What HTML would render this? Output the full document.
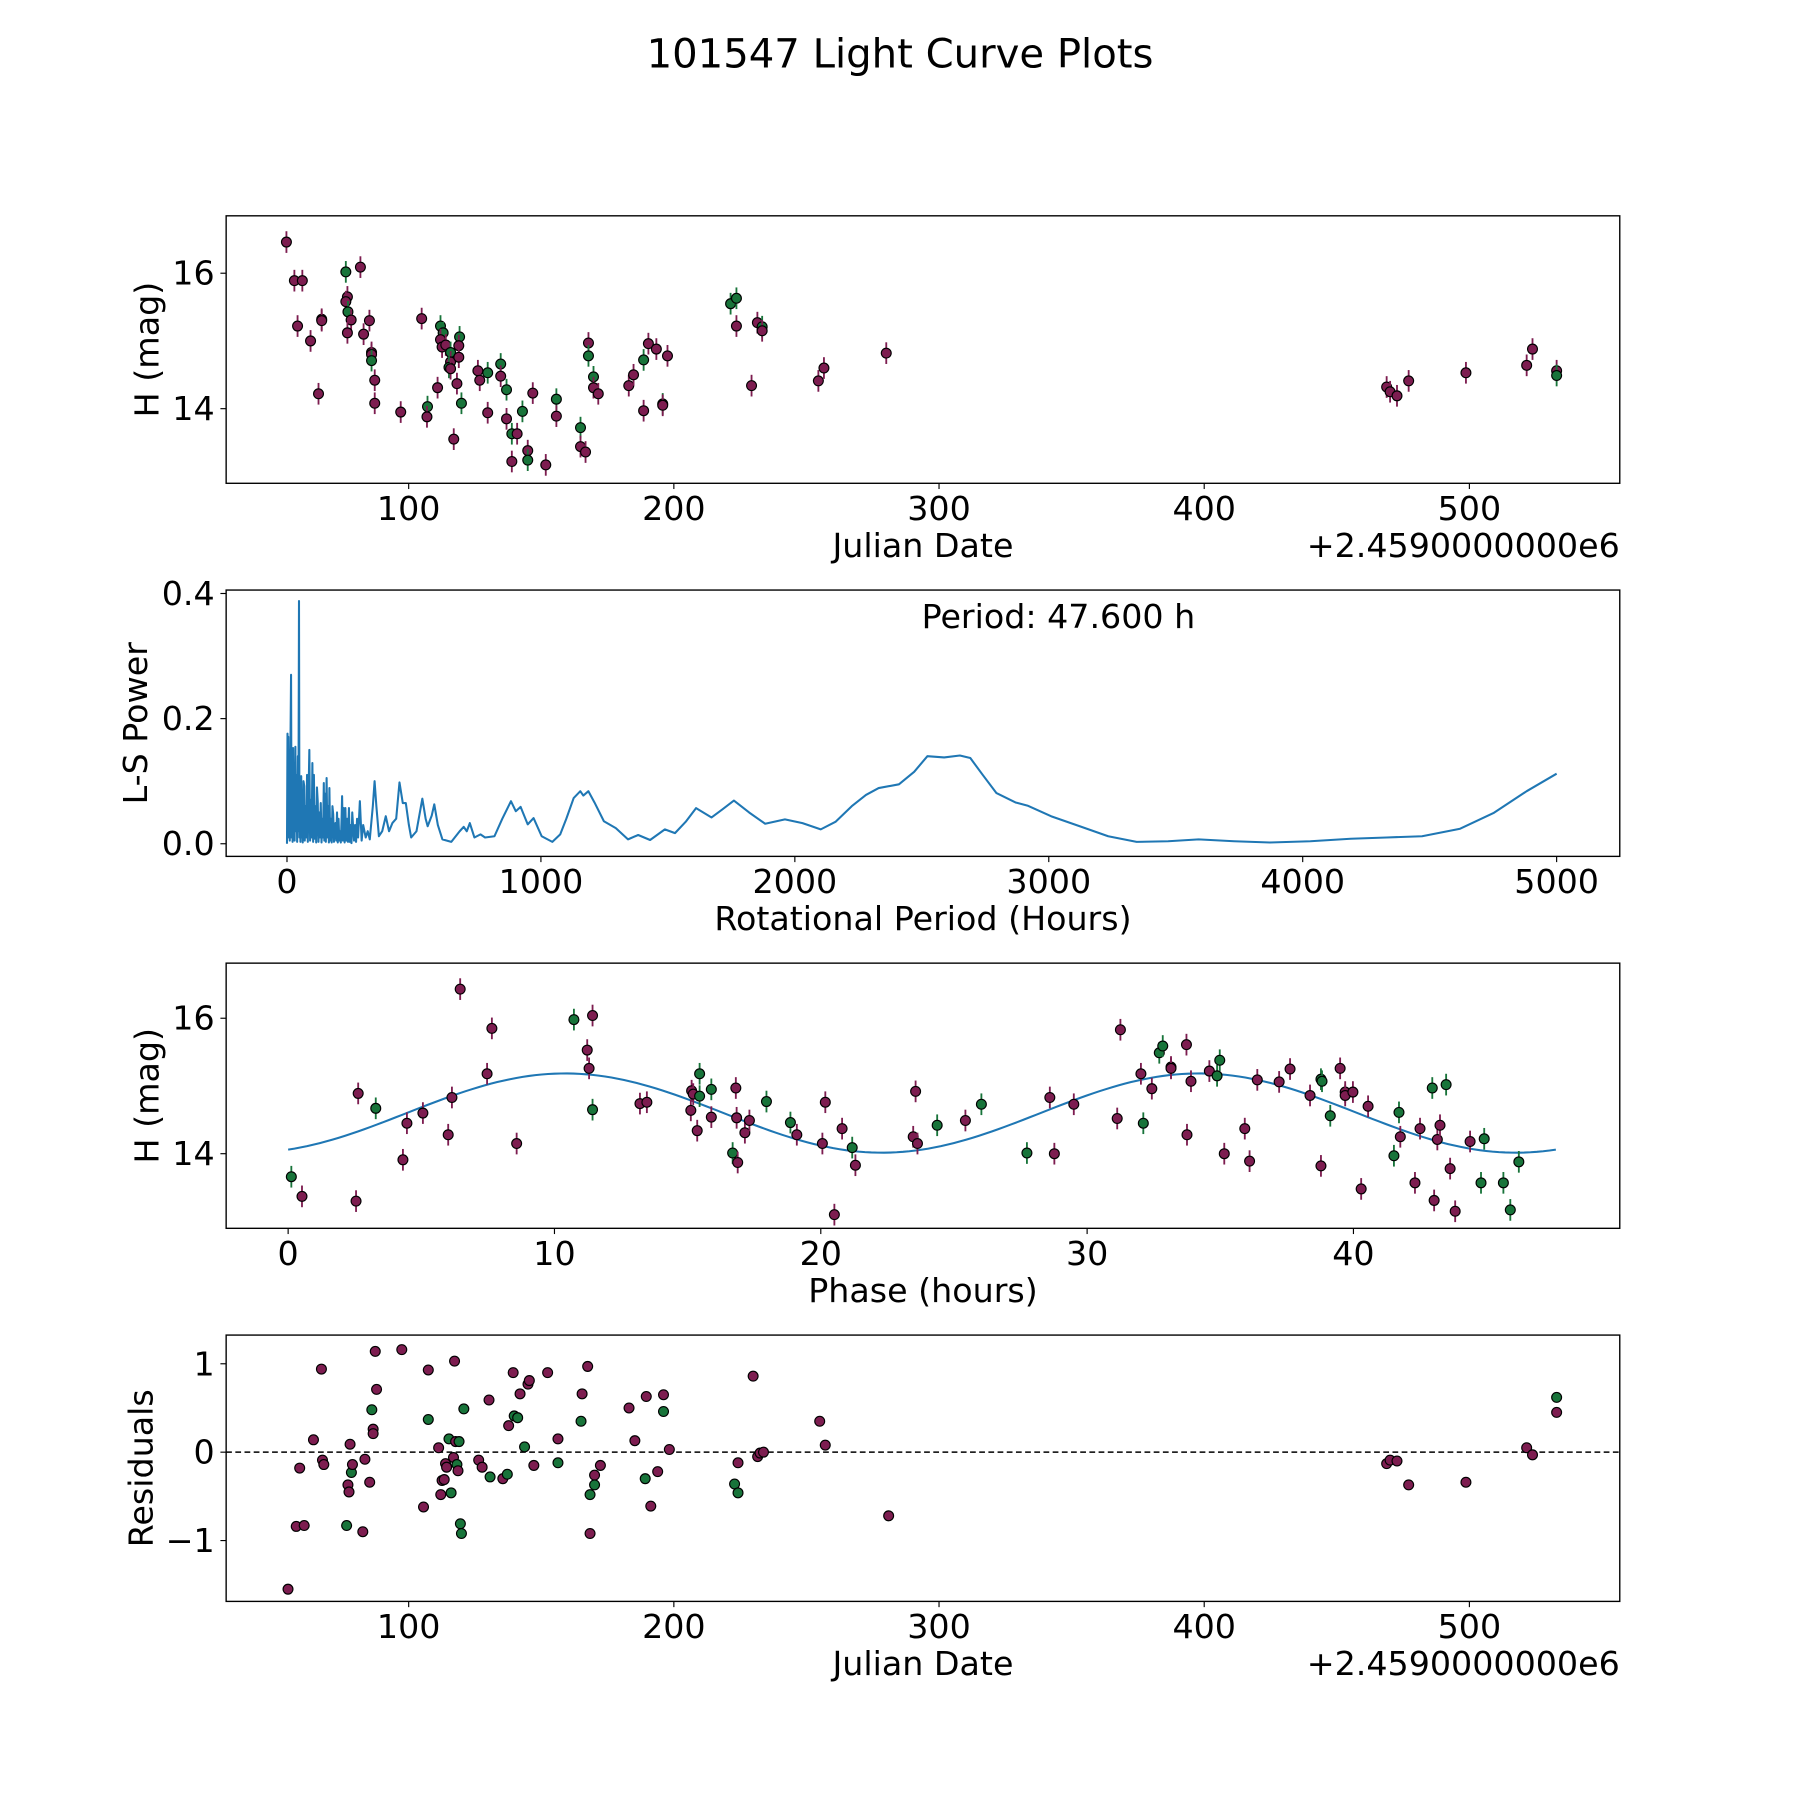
<!DOCTYPE html>
<html><head><meta charset="utf-8"><style>
html,body{margin:0;padding:0;background:#fff}
svg{display:block}
text{font-family:"DejaVu Sans","Liberation Sans",sans-serif;fill:#000}
</style></head><body>
<svg id="chart" width="1800" height="1800" viewBox="0 0 1568 1568" xmlns="http://www.w3.org/2000/svg">
<text x="784" y="59" font-size="35" text-anchor="middle">101547 Light Curve Plots</text>
<g id="g1"></g>
<g id="g2"></g>
<g id="g3"></g>
<g id="g4"></g>
</svg>
<script>
// ---------- data ----------
const jd1 = [53.9,56.9,59.9,58.1,63.0,66.0,67.2,67.2,76.3,81.8,76.9,76.3,77.1,78.3,76.9,83.0,85.2,86.0,86.0,86.0,87.2,87.2,97.0,104.9,107.1,106.9,110.9,112.0,113.0,112.0,112.6,114.0,115.8,115.8,115.2,115.8,118.2,119.2,118.9,118.9,117.0,119.9,126.1,126.8,129.8,129.8,134.7,134.7,136.9,136.9,138.9,140.9,144.9,144.9,138.9,142.9,146.8,151.7,155.7,155.7,164.8,164.8,166.7,167.8,167.8,169.7,169.7,171.5,183.0,184.8,188.6,188.6,190.4,193.4,197.6,195.8,195.8,221.4,223.6,223.6,231.5,233.3,233.3,229.3,254.5,256.6,280.1,468.8,470.1,472.7,477.1,498.7,521.6,523.8,532.9,532.9];
const mag1 = [16.46,15.89,15.89,15.22,15.00,14.22,15.32,15.30,16.02,16.09,15.65,15.58,15.43,15.31,15.12,15.10,15.30,14.83,14.80,14.71,14.42,14.08,13.95,15.33,14.03,13.88,14.31,15.22,15.12,15.02,14.91,14.94,14.83,14.69,14.61,14.59,14.37,15.06,14.93,14.76,13.55,14.08,14.56,14.42,14.53,13.94,14.66,14.48,14.28,13.85,13.63,13.63,13.38,13.24,13.22,13.96,14.23,13.17,14.14,13.89,13.72,13.44,13.36,14.97,14.78,14.47,14.31,14.22,14.34,14.50,14.72,13.97,14.96,14.88,14.78,14.07,14.05,15.55,15.63,15.22,15.27,15.21,15.15,14.34,14.41,14.60,14.82,14.32,14.25,14.19,14.41,14.53,14.64,14.88,14.56,14.49];
const band1 = "ppppppppgp" + "ppgppppppg" + "ppppgppggp" + "ppgpgppgpp" + "pgppgpgpgp" + "gppgpgppgp" + "gpppggpppp" + "gppppgpggp" + "pgppppp" + "ppppppppg";
const ph3 = [0.12,0.52,2.55,2.63,3.29,4.31,4.46,5.06,6.01,6.15,6.46,7.47,7.65,8.58,10.73,11.43,11.23,11.30,11.43,13.21,13.47,15.15,15.21,15.45,15.45,15.12,15.36,15.89,15.89,16.81,16.84,16.69,16.88,17.15,17.32,17.96,18.86,19.10,20.17,20.06,20.51,20.80,21.18,21.30,23.56,23.47,23.63,24.37,25.43,26.03,27.74,28.60,28.77,29.50,31.13,31.25,32.02,32.11,32.43,32.71,32.84,33.15,33.15,33.75,33.73,33.90,34.59,34.88,34.98,35.15,35.92,36.10,36.39,37.21,37.62,38.37,38.78,38.78,38.82,39.13,39.50,39.69,39.69,39.98,40.29,40.55,41.52,41.71,41.76,42.31,42.50,42.96,43.03,43.15,43.25,43.48,43.63,43.82,44.38,44.79,44.91,45.63,45.89,46.21];
const mag3 = [13.66,13.37,13.30,14.89,14.67,13.91,14.45,14.60,14.28,14.83,16.43,15.18,15.85,14.15,15.98,16.04,15.53,15.26,14.65,14.74,14.76,14.93,14.88,14.85,15.18,14.64,14.34,14.95,14.54,14.97,14.53,14.01,13.87,14.31,14.49,14.77,14.46,14.28,14.76,14.15,13.10,14.37,14.09,13.83,14.92,14.25,14.15,14.42,14.49,14.73,14.01,14.83,14.00,14.73,14.52,15.83,15.18,14.45,14.96,15.49,15.59,15.28,15.26,14.28,15.61,15.07,15.22,15.15,15.38,14.00,14.37,13.89,15.09,15.06,15.25,14.86,13.82,15.10,15.07,14.56,15.26,14.91,14.86,14.91,13.48,14.70,13.97,14.61,14.25,13.57,14.37,14.97,13.31,14.21,14.42,15.02,13.78,13.15,14.18,13.57,14.22,13.57,13.17,13.88];
const band3 = "gpppg" + "ppppp" + "ppppg" + "pppgp" + "pppgg" + "ppgpp" + "pgppp" + "ggppp" + "ppgpp" + "ppg" +
              "pggpp" + "ppppg" + "pggpp" + "ppppg" + "gpppp" + "ppppg" + "ggppp" + "pppgg" + "pppgp" + "ppgpp" + "pggggg";
const jd4 = [54.5,57.6,58.9,60.6,64.1,67.1,67.5,68.0,76.6,77.1,77.5,77.9,78.4,78.8,82.7,83.5,85.3,86.1,86.6,86.6,87.4,87.9,97.4,105.6,107.4,107.4,111.3,112.1,112.6,113.4,113.9,114.3,115.2,116.0,116.9,117.3,117.7,118.2,118.6,119.0,119.5,119.9,120.8,126.4,127.7,130.3,130.7,135.5,137.2,137.7,139.4,139.8,141.1,142.0,143.7,145.0,145.5,147.2,152.4,156.3,156.3,165.0,165.4,167.5,168.4,168.4,170.1,170.1,172.3,183.1,185.3,189.2,189.6,191.3,193.9,196.1,196.1,198.3,222.9,224.2,224.2,229.9,231.6,232.5,233.8,255.0,257.1,281.0,468.8,470.1,472.7,477.1,498.7,521.6,523.8,532.9,532.9];
const res4 = [-1.55,-0.84,-0.18,-0.83,0.14,0.94,-0.09,-0.14,-0.83,-0.37,-0.45,0.09,-0.23,-0.14,-0.90,-0.08,-0.34,0.48,0.26,0.21,1.14,0.71,1.16,-0.62,0.37,0.93,0.05,-0.48,-0.32,-0.31,-0.13,-0.17,0.15,-0.46,-0.06,1.03,0.12,-0.14,-0.21,0.12,-0.81,-0.92,0.49,-0.09,-0.17,0.59,-0.28,-0.30,-0.25,0.30,0.90,0.41,0.39,0.66,0.06,0.77,0.81,-0.15,0.90,0.15,-0.12,0.35,0.66,0.97,-0.48,-0.92,-0.26,-0.37,-0.15,0.50,0.13,-0.30,0.63,-0.61,-0.22,0.46,0.65,0.03,-0.36,-0.12,-0.46,0.86,-0.05,-0.01,0.00,0.35,0.08,-0.72,-0.13,-0.09,-0.10,-0.37,-0.34,0.05,-0.03,0.45,0.62];
const band4 = "ppppppppgp" + "ppgppppgpp" + "ppppgppppp" + "ppggpppgpg" + "gggpppgpgp" + "pggpgppppp" + "ggppgppgpp" + "pgpppgppgp" + "gppppppppp" + "ppppppg";
// periodogram, in rows of 10 (period hours / L-S power)
const periods = [
  0,2,3.5,5,7,9,11,13,16,18,
  20,22,24,26,28,30,33,35,37,40,
  43,45,47.3,49,51,53,56,58,60,62,
  65,68,70,73,76,79,82,85,88,91,
  94,97,100,103,106,109,112,115,118,121,
  124,127,130,133,136,139,142,145,147,150,
  153,156,159,162,165,167,170,173,176,179,
  182,185,188,191,194,197,200,203,206,209,
  212,215,217,220,223,227,230,233,237,240,
  244,247,250,254,257,261,264,268,272,276,
  280,287,294,300,310,318,326,338,345,352,
  362,375,389,402,415,430,443,456,468,480,
  489,510,533,546,554,570,580,594,612,647,
  680,696,708,720,738,762,780,817,848,882,
  901,920,948,971,1003,1045,1076,1100,1129,1155,
  1167,1187,1211,1248,1295,1343,1383,1430,1488,1528,
  1570,1611,1672,1715,1760,1820,1883,1961,2030,2102,
  2160,2224,2280,2330,2410,2470,2522,2588,2650,2691,
  2740,2794,2869,2916,3009,3122,3234,3346,3470,3590,
  3730,3871,4030,4189,4330,4470,4620,4751,4882,5000];
const power = [
  0,0.176,0.02,0.171,0.01,0.15,0.005,0.13,0.27,0.01,
  0.12,0.003,0.153,0.01,0.12,0.005,0.155,0.02,0.11,0.003,
  0.14,0.02,0.388,0.01,0.09,0.003,0.108,0.01,0.07,0.002,
  0.1,0.092,0.005,0.06,0.01,0.11,0.003,0.08,0.15,0.005,
  0.07,0.01,0.129,0.003,0.11,0.008,0.06,0.002,0.09,0.068,
  0.003,0.05,0.01,0.065,0.002,0.04,0.01,0.097,0.005,0.08,
  0.003,0.105,0.01,0.06,0.002,0.089,0.005,0.04,0.002,0.06,
  0.047,0.003,0.03,0.033,0.005,0.05,0.002,0.04,0.005,0.02,
  0.002,0.04,0.076,0.005,0.057,0.002,0.057,0.005,0.04,0.003,
  0.057,0.003,0.03,0.001,0.05,0.023,0.005,0.03,0.003,0.04,
  0.01,0.068,0.005,0.03,0.01,0.02,0.007,0.06,0.1,0.06,
  0.012,0.02,0.044,0.02,0.033,0.04,0.098,0.065,0.065,0.03,
  0.01,0.02,0.072,0.04,0.028,0.045,0.063,0.03,0.007,0.003,
  0.02,0.027,0.02,0.033,0.01,0.015,0.01,0.012,0.04,0.068,
  0.052,0.059,0.031,0.041,0.012,0.003,0.015,0.04,0.073,0.084,
  0.077,0.084,0.066,0.036,0.025,0.007,0.014,0.006,0.023,0.017,
  0.035,0.057,0.042,0.055,0.069,0.05,0.032,0.039,0.033,0.023,
  0.035,0.06,0.078,0.089,0.095,0.115,0.14,0.138,0.141,0.137,
  0.11,0.081,0.066,0.061,0.044,0.028,0.012,0.003,0.004,0.007,
  0.004,0.002,0.004,0.008,0.01,0.012,0.024,0.049,0.084,0.112];
const xticks1 = [100,200,300,400,500];
const yticks1 = [14,16];
const xticks2 = [0,1000,2000,3000,4000,5000];
const yticks2 = [0.0,0.2,0.4];
const yticks2Labels = ["0.0","0.2","0.4"];
const xticks3 = [0,10,20,30,40];
const yticks4 = [-1,0,1];
const yticks4Labels = ["\u22121","0","1"];
const bestPeriod = 47.6;
const fitMean = 14.6, fitAmp = 0.585, fitPhase = 4.45;
const ERR = 0.16;

// ---------- helpers ----------
const NS = "http://www.w3.org/2000/svg";
const PURPLE = "#7d1d50", GREEN = "#18743a", BLUE = "#1f77b4";
const FS = 29;
function mk(parent, tag, attrs, txt){
  const e = document.createElementNS(NS, tag);
  for (const k in attrs) e.setAttribute(k, attrs[k]);
  if (txt !== undefined) e.textContent = txt;
  parent.appendChild(e);
  return e;
}
function lin(d0,d1,p0,p1){ return v => p0 + (v-d0)*(p1-p0)/(d1-d0); }
const L = 197, R = 1411;

function frame(g, top, bot, name){
  const r = mk(g,'rect',{x:L,y:top,width:R-L,height:bot-top,fill:'none',stroke:'#000','stroke-width':1.2});
  
  
}
function xTicks(g, ticks, labels, sx, bot){
  ticks.forEach((t,i)=>{
    const x = sx(t);
    const tk = mk(g,'line',{x1:x,x2:x,y1:bot,y2:bot+5,stroke:'#000','stroke-width':1});
    
    
    const tl = mk(g,'text',{x:x,y:bot+32,'font-size':FS,'text-anchor':'middle'}, labels[i]);
    
    
  });
}
function yTicks(g, ticks, labels, sy){
  ticks.forEach((t,i)=>{
    const y = sy(t);
    const tk = mk(g,'line',{x1:L-5,x2:L,y1:y,y2:y,stroke:'#000','stroke-width':1});
    
    
    const tl = mk(g,'text',{x:L-10,y:y+10,'font-size':FS,'text-anchor':'end'}, labels[i]);
    
    
  });
}
function xLabel(g, txt, y, name){
  const t = mk(g,'text',{x:804,y:y,'font-size':FS,'text-anchor':'middle'}, txt);
  
  
}
function yLabel(g, txt, x, cy, name){
  const t = mk(g,'text',{x:x,y:cy,'font-size':FS,'text-anchor':'middle',transform:`rotate(-90 ${x} ${cy})`}, txt);
  
  
}
function offsetText(g, y){
  const t = mk(g,'text',{x:R,y:y,'font-size':FS,'text-anchor':'end'}, '+2.4590000000e6');
  
  
}
function points(g, xs, ys, bands, sx, sy, err){
  xs.forEach((v,i)=>{
    const c = bands[i]==='g' ? GREEN : PURPLE;
    const x = sx(v), y = sy(ys[i]);
    if (err){
      const eb = mk(g,'line',{x1:x,x2:x,y1:sy(ys[i]+err),y2:sy(ys[i]-err),stroke:c,'stroke-width':1.6});
      
      
    }
    const p = mk(g,'circle',{cx:x,cy:y,r:4.3,fill:c,stroke:'#000','stroke-width':1});
    
    
  });
}

// ---------- panel 1 ----------
(function(){
  const g = document.getElementById('g1');
  const top=188, bot=421;
  const sx = lin(100,500,356,1280), sy = lin(14,16,356,238);
  frame(g, top, bot, 'light-curve-axes');
  points(g, jd1, mag1, band1, sx, sy, ERR);
  xTicks(g, xticks1, xticks1.map(String), sx, bot);
  yTicks(g, yticks1, yticks1.map(String), sy);
  xLabel(g, 'Julian Date', 485, 'x-axis-title');
  offsetText(g, 485);
  yLabel(g, 'H (mag)', 138, (top+bot)/2, 'y-axis-title');
})();

// ---------- panel 2 ----------
(function(){
  const g = document.getElementById('g2');
  const top=514, bot=746;
  const sx = lin(0,5000,250,1356), sy = lin(0,0.4,735,517);
  frame(g, top, bot, 'periodogram-axes');
  const d = periods.map((p,i)=>(i?'L':'M')+sx(p).toFixed(2)+' '+sy(power[i]).toFixed(2)).join(' ');
  const ln = mk(g,'path',{d:d,fill:'none',stroke:BLUE,'stroke-width':1.8,'stroke-linejoin':'round'});
  
  
  xTicks(g, xticks2, xticks2.map(String), sx, bot);
  yTicks(g, yticks2, yticks2Labels, sy);
  xLabel(g, 'Rotational Period (Hours)', 810, 'x-axis-title');
  yLabel(g, 'L-S Power', 128, (top+bot)/2, 'y-axis-title');
  const pt = mk(g,'text',{x:922,y:547,'font-size':FS,'text-anchor':'middle'}, 'Period: ' + bestPeriod.toFixed(3) + ' h');
  
  
})();

// ---------- panel 3 ----------
(function(){
  const g = document.getElementById('g3');
  const top=839, bot=1070;
  const sx = lin(0,40,251,1179), sy = lin(14,16,1005,887);
  frame(g, top, bot, 'phase-axes');
  const pts = [];
  for (let i=0;i<=200;i++){
    const t = bestPeriod*i/200;
    const m = fitMean + fitAmp*Math.sin(2*Math.PI*(t-fitPhase)/(bestPeriod/2));
    pts.push((i?'L':'M')+sx(t).toFixed(2)+' '+sy(m).toFixed(2));
  }
  const ln = mk(g,'path',{d:pts.join(' '),fill:'none',stroke:BLUE,'stroke-width':1.8});
  
  
  points(g, ph3, mag3, band3, sx, sy, ERR);
  xTicks(g, xticks3, xticks3.map(String), sx, bot);
  yTicks(g, yticks1, yticks1.map(String), sy);
  xLabel(g, 'Phase (hours)', 1134, 'x-axis-title');
  yLabel(g, 'H (mag)', 138, (top+bot)/2, 'y-axis-title');
})();

// ---------- panel 4 ----------
(function(){
  const g = document.getElementById('g4');
  const top=1163, bot=1395;
  const sx = lin(100,500,356,1280), sy = lin(0,1,1265,1188);
  frame(g, top, bot, 'residuals-axes');
  const zl = mk(g,'line',{x1:L,x2:R,y1:sy(0),y2:sy(0),stroke:'#000','stroke-width':1.3,'stroke-dasharray':'5,3'});
  
  
  points(g, jd4, res4, band4, sx, sy, 0);
  xTicks(g, xticks1, xticks1.map(String), sx, bot);
  yTicks(g, yticks4, yticks4Labels, sy);
  xLabel(g, 'Julian Date', 1459, 'x-axis-title');
  offsetText(g, 1459);
  yLabel(g, 'Residuals', 133, (top+bot)/2, 'y-axis-title');
})();
</script>
</body></html>
